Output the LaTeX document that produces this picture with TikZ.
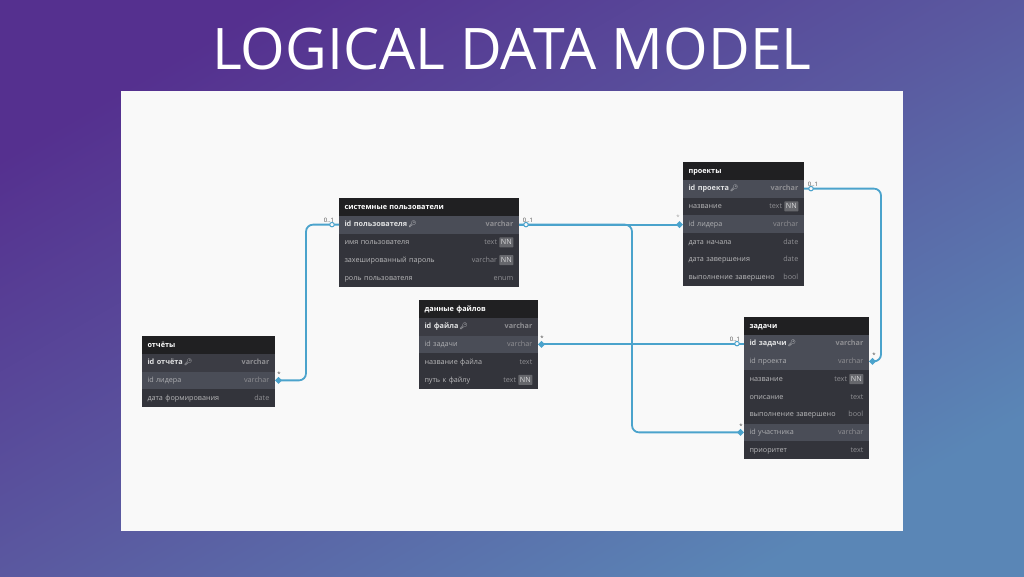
\documentclass[tikz,border=0pt]{standalone}
\usepackage{fontspec}
\setmainfont{Open Sans}
\newfontfamily\emojifont{Noto Emoji}
\usepackage{xcolor}
\usetikzlibrary{arrows.meta, positioning, calc}
\definecolor{topleft}{HTML}{55308F}
\definecolor{midband}{HTML}{5A59A0}
\definecolor{botright}{HTML}{5A86B6}
\definecolor{panelbg}{HTML}{F9F9F9}
\definecolor{headbg}{HTML}{202022}
\definecolor{rowbg}{HTML}{33343B}
\definecolor{pkbg}{HTML}{3B3C44}
\definecolor{hotbg}{HTML}{4A4D57}
\definecolor{linkblue}{HTML}{4BA3CC}
\newcommand{\keymark}{\,{\emojifont\fontsize{6.5}{7}\selectfont\char"1F511}}
\newcommand{\rowfont}{\fontsize{7.2}{10}\selectfont}
% one table row: style, above, name, label, type
\newcommand{\dbrow}[5]{%
	\node[#1, below=0pt of #2] (#3) {#4};
	\node[typelab] (#3t) at ($(#3.east)+(-5.5,0)$) {#5};
}
% key row, type in bold
\newcommand{\dbrowpk}[5]{%
	\node[#1, below=0pt of #2] (#3) {#4};
	\node[typelab, font=\rowfont\bfseries] (#3t) at ($(#3.east)+(-5.5,0)$) {#5};
}
% same with NN badge
\newcommand{\dbrownn}[5]{%
	\node[#1, below=0pt of #2] (#3) {#4};
	\node[nnbadge] (#3n) at ($(#3.east)+(-5.5,0)$) {NN};
	\node[typelab] (#3t) at ($(#3n.west)+(-2,0)$) {#5};
}

\begin{document}
\begin{tikzpicture}[
	x=1pt, y=-1pt,
	font=\rowfont,
	tbl/.style={outer sep=0pt, inner xsep=5.5pt, inner ysep=0pt, align=left,
		text height=6.2pt, text depth=1.8pt, minimum height=17.75pt},
	headrow/.style={tbl, fill=headbg, text=white, font=\fontsize{7.3}{10}\selectfont\bfseries},
	plainrow/.style={tbl, fill=rowbg, text=white!65!rowbg},
	pkrow/.style={tbl, fill=pkbg, text=white!85!rowbg, font=\fontsize{7.3}{10}\selectfont\bfseries},
	hotrow/.style={tbl, fill=hotbg, text=white!60!rowbg},
	hotpk/.style={pkrow, fill=hotbg},
	typelab/.style={anchor=east, inner sep=0pt, text=white!45!rowbg,
		text height=6.2pt, text depth=1.8pt},
	nnbadge/.style={anchor=east, fill=white!25!rowbg, text=white!80!rowbg, inner xsep=1.5pt,
		inner ysep=1.5pt, text height=6pt, text depth=1pt, rounded corners=0.5pt},
	repw/.style={text width=122pt},
	usrw/.style={text width=169pt},
	filew/.style={text width=108pt},
	prjw/.style={text width=110pt},
	tskw/.style={text width=114pt},
	link/.style={draw=linkblue, line width=1.8pt, rounded corners=7pt},
	kite/.tip={Kite[length=7pt, width=7pt, inset=3.5pt]},
	optmark/.style={circle, draw=linkblue, fill=panelbg, line width=1pt, minimum size=4.5pt, inner sep=0pt},
	cardlab/.style={font=\fontsize{6}{7}\selectfont, text=black!70, inner sep=0pt}
	]
	\useasboundingbox (0,0) rectangle (1024,576);
	%--- backdrop ----------------------------------------------------------------
	\shade[shading=axis, bottom color=botright, top color=topleft, middle color=midband, shading angle=30]
	(0,0) rectangle (1024,576);
	\node[font=\fontsize{57.3}{60}\selectfont, text=white, inner sep=0pt] (title) at (512,49) {LOGICAL DATA MODEL};
	\fill[panelbg] (121,91) rectangle (903,531);
	
	%--- reports -----------------------------------------------------------------
	\node[headrow, repw, anchor=north west] (rep) at (142,336) {отчёты};
	\dbrowpk{pkrow, repw}{rep}{rep1}{id отчёта\keymark}{varchar}
	\dbrow{hotrow, repw}{rep1}{rep2}{id лидера}{varchar}
	\dbrow{plainrow, repw}{rep2}{rep3}{дата формирования}{date}
	
	%--- system users ------------------------------------------------------------
	\node[headrow, usrw, anchor=north west] (usr) at (339,198) {системные пользователи};
	\dbrowpk{hotpk, usrw}{usr}{usr1}{id пользователя\keymark}{varchar}
	\dbrownn{plainrow, usrw}{usr1}{usr2}{имя пользователя}{text}
	\dbrownn{plainrow, usrw}{usr2}{usr3}{захешированный пароль}{varchar}
	\dbrow{plainrow, usrw}{usr3}{usr4}{роль пользователя}{enum}
	
	%--- file data ---------------------------------------------------------------
	\node[headrow, filew, anchor=north west] (fil) at (419,300) {данные файлов};
	\dbrowpk{pkrow, filew}{fil}{fil1}{id файла\keymark}{varchar}
	\dbrow{hotrow, filew}{fil1}{fil2}{id задачи}{varchar}
	\dbrow{plainrow, filew}{fil2}{fil3}{название файла}{text}
	\dbrownn{plainrow, filew}{fil3}{fil4}{путь к файлу}{text}
	
	%--- projects ----------------------------------------------------------------
	\node[headrow, prjw, anchor=north west] (prj) at (683,162) {проекты};
	\dbrowpk{hotpk, prjw}{prj}{prj1}{id проекта\keymark}{varchar}
	\dbrownn{plainrow, prjw}{prj1}{prj2}{название}{text}
	\dbrow{hotrow, prjw}{prj2}{prj3}{id лидера}{varchar}
	\dbrow{plainrow, prjw}{prj3}{prj4}{дата начала}{date}
	\dbrow{plainrow, prjw}{prj4}{prj5}{дата завершения}{date}
	\dbrow{plainrow, prjw}{prj5}{prj6}{выполнение завершено}{bool}
	
	%--- tasks -------------------------------------------------------------------
	\node[headrow, tskw, anchor=north west] (tsk) at (744,317) {задачи};
	\dbrowpk{hotpk, tskw}{tsk}{tsk1}{id задачи\keymark}{varchar}
	\dbrow{hotrow, tskw}{tsk1}{tsk2}{id проекта}{varchar}
	\dbrownn{plainrow, tskw}{tsk2}{tsk3}{название}{text}
	\dbrow{plainrow, tskw}{tsk3}{tsk4}{описание}{text}
	\dbrow{plainrow, tskw}{tsk4}{tsk5}{выполнение завершено}{bool}
	\dbrow{hotrow, tskw}{tsk5}{tsk6}{id участника}{varchar}
	\dbrow{plainrow, tskw}{tsk6}{tsk7}{приоритет}{text}
	
	%--- connectors --------------------------------------------------------------
	\coordinate (trunk) at (632,300);
	\coordinate (rightrail) at (881,270);
	\coordinate (leftrail) at (306,300);
	\draw[link, {kite}-] (rep2.east) -| (leftrail) |- (usr1.west);
	\draw[link, -{kite}] (usr1.east) -- (usr1.east -| prj3.west);
	\draw[link, -{kite}] (usr1.east) -| (trunk) |- (tsk6.west);
	\draw[link, {kite}-] (fil2.east) -- (fil2.east -| tsk1.west);
	\draw[link, -{kite}] (prj1.east) -| (rightrail) |- (tsk2.east);
	
	%--- end marks ---------------------------------------------------------------
	\node[optmark] (mk1) at ($(usr1.west)+(-7,0)$) {};
	\node[optmark] (mk2) at ($(usr1.east)+(7,0)$) {};
	\node[optmark] (mk3) at ($(tsk1.west)+(-7,0)$) {};
	\node[optmark] (mk4) at ($(prj1.east)+(7,0)$) {};
	\node[cardlab] (card1) at (329,220) {0..1};
	\node[cardlab] (card2) at (528,220) {0..1};
	\node[cardlab] (card3) at (735,339) {0..1};
	\node[cardlab] (card4) at (813,184) {0..1};
	\node[cardlab] (star1) at (279,374) {*};
	\node[cardlab, text=black!35] (star2) at (678,217) {*};
	\node[cardlab] (star3) at (741,426) {*};
	\node[cardlab] (star4) at (542,338) {*};
	\node[cardlab] (star5) at (874,355) {*};
\end{tikzpicture}
\end{document}
